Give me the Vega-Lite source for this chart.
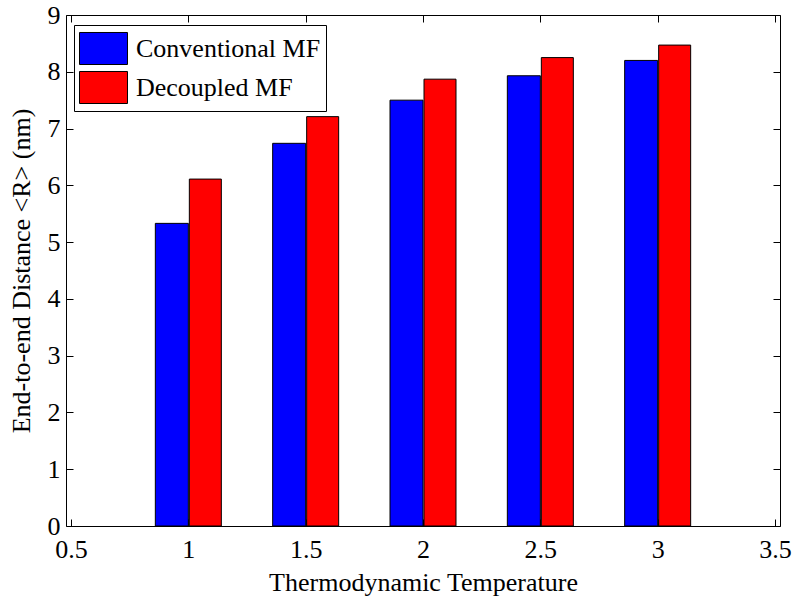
{
  "$schema": "https://vega.github.io/schema/vega-lite/v6.json",
  "width": 714,
  "height": 511,
  "autosize": {"type": "none"},
  "padding": {"left": 66, "top": 15, "right": 18, "bottom": 81},
  "background": "white",
  "config": {
    "view": {"stroke": "black", "strokeWidth": 1},
    "font": "Liberation Serif",
    "axis": {
      "grid": false,
      "domain": false,
      "tickColor": "black",
      "tickSize": -7,
      "tickWidth": 1,
      "labelColor": "black",
      "labelFontSize": 26,
      "labelFont": "Liberation Serif",
      "titleFont": "Liberation Serif",
      "titleFontSize": 26,
      "titleFontWeight": "normal",
      "titleColor": "black",
      "labelFlush": false,
      "labelOverlap": false
    }
  },
  "data": {
    "values": [
      {"T": 1, "method": "Conventional MF", "R": 5.33},
      {"T": 1, "method": "Decoupled MF", "R": 6.11},
      {"T": 1.5, "method": "Conventional MF", "R": 6.74},
      {"T": 1.5, "method": "Decoupled MF", "R": 7.21},
      {"T": 2, "method": "Conventional MF", "R": 7.5},
      {"T": 2, "method": "Decoupled MF", "R": 7.87},
      {"T": 2.5, "method": "Conventional MF", "R": 7.93},
      {"T": 2.5, "method": "Decoupled MF", "R": 8.25},
      {"T": 3, "method": "Conventional MF", "R": 8.2},
      {"T": 3, "method": "Decoupled MF", "R": 8.47}
    ]
  },
  "resolve": {"axis": {"x": "independent", "y": "independent"}},
  "layer": [
    {
      "transform": [{"filter": "datum.method === 'Conventional MF'"}],
      "mark": {"type": "bar", "width": 33, "xOffset": -16.5, "stroke": "black", "strokeWidth": 1},
      "encoding": {
        "x": {
          "field": "T", "type": "quantitative",
          "scale": {"domain": [0.5, 3.5], "nice": false, "zero": false},
          "axis": {
            "orient": "bottom",
            "values": [0.5, 1, 1.5, 2, 2.5, 3, 3.5],
            "format": "~g",
            "labelPadding": 17,
            "title": "Thermodynamic Temperature",
            "titleBaseline": "middle",
            "titleY": 56
          }
        },
        "y": {
          "field": "R", "type": "quantitative",
          "scale": {"domain": [0, 9], "nice": false},
          "axis": {
            "orient": "left",
            "values": [0, 1, 2, 3, 4, 5, 6, 7, 8, 9],
            "labelPadding": 13,
            "title": "End-to-end Distance <R> (nm)",
            "titleBaseline": "middle",
            "titleX": -45
          }
        },
        "color": {
          "field": "method", "type": "nominal",
          "scale": {"domain": ["Conventional MF", "Decoupled MF"], "range": ["#0000ff", "#ff0000"]},
          "legend": {
            "title": null,
            "orient": "none",
            "legendX": 8,
            "legendY": 10,
            "padding": 5,
            "strokeColor": "black",
            "fillColor": "white",
            "symbolType": "M-1.333,-0.889L1.333,-0.889L1.333,0.889L-1.333,0.889Z",
            "symbolSize": 1296,
            "symbolStrokeColor": "black",
            "symbolStrokeWidth": 1,
            "symbolOpacity": 1,
            "symbolOffset": 6,
            "labelFont": "Liberation Serif",
            "labelFontSize": 26,
            "labelColor": "black",
            "labelOffset": 14,
            "labelLimit": 0,
            "rowPadding": 2
          }
        }
      }
    },
    {
      "transform": [{"filter": "datum.method === 'Decoupled MF'"}],
      "mark": {"type": "bar", "width": 32, "xOffset": 17, "stroke": "black", "strokeWidth": 1},
      "encoding": {
        "x": {"field": "T", "type": "quantitative", "axis": null},
        "y": {"field": "R", "type": "quantitative", "axis": null},
        "color": {"field": "method", "type": "nominal"}
      }
    },
    {
      "mark": {"type": "bar", "opacity": 0, "width": 1},
      "encoding": {
        "x": {
          "field": "T", "type": "quantitative",
          "axis": {"orient": "top", "values": [0.5, 1, 1.5, 2, 2.5, 3, 3.5], "labels": false, "title": null}
        },
        "y": {
          "field": "R", "type": "quantitative",
          "axis": {"orient": "right", "values": [0, 1, 2, 3, 4, 5, 6, 7, 8, 9], "labels": false, "title": null}
        }
      }
    }
  ]
}
